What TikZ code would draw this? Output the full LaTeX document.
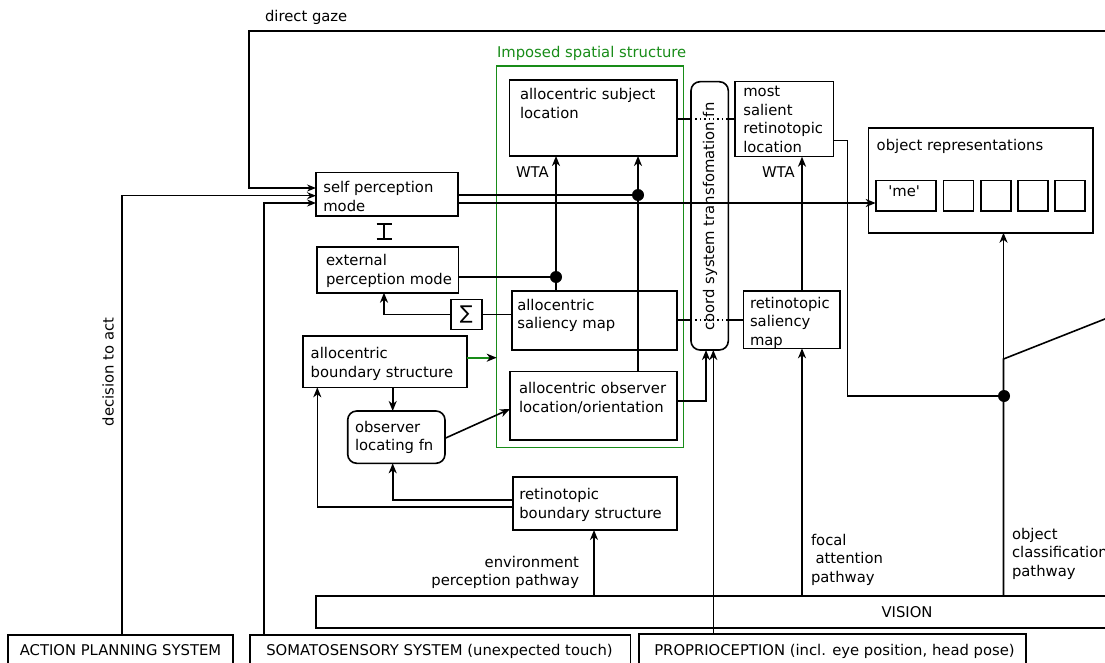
\documentclass[tikz,border=0pt]{standalone}
\usepackage{fontspec}
\setmainfont{DejaVu Sans}
\usetikzlibrary{arrows.meta,fit}
\definecolor{grn}{RGB}{24,140,24}
\newcommand\dfont{\fontsize{14.8}{18.5}\selectfont}
\begin{document}
\begin{tikzpicture}[x=1pt,y=-1pt,
  box/.style={draw, line width=1.6pt, inner sep=0pt, outer sep=0pt},
  rbox/.style={box, rounded corners=9pt},
  gbox/.style={draw=grn, line width=1.3pt, inner sep=0pt, outer sep=0pt},
  txt/.style={inner sep=0pt, outer sep=0pt, anchor=north west, yshift=12.95pt, align=left, font=\dfont},
  rtxt/.style={txt, anchor=north east, align=right},
  ctxt/.style={inner sep=0pt, outer sep=0pt, anchor=base, font=\dfont},
  ln/.style={line width=1.6pt},
  dotln/.style={line width=1.4pt, dash pattern=on 1.4pt off 3pt},
  arr/.style={ln, -{Stealth[length=10pt,width=8pt,inset=3pt]}},
  arrs/.style={ln, -{Stealth[length=9pt,width=7pt,inset=3pt]}},
  dot/.style={circle, fill=black, minimum size=12pt, inner sep=0pt, outer sep=0pt},
]
\useasboundingbox (0,0) rectangle (1105,663);
\clip (0,0) rectangle (1105,663);

% ---------------- boxes ----------------
\node[box, fit={(316,172.7) (458,216)}] (self) {};
\node[box, fit={(316.7,247) (458.3,292.7)}] (ext) {};
\node[box, minimum width=30.7pt, minimum height=30pt] (sig) at (466.35,314.3) {\fontsize{19}{19}\selectfont ∑};
\node[box, fit={(511.7,290.7) (676.7,350)}] (asal) {};
\node[box, fit={(302.7,336) (466.7,387.3)}] (abound) {};
\node[box, fit={(510,371.3) (676.7,440)}] (aobs) {};
\node[rbox, fit={(347.7,411) (445,463.3)}] (ofn) {};
\node[box, fit={(512.7,476.7) (676.7,530)}] (rbound) {};
\node[box, fit={(509.3,80) (676.7,156)}] (asubj) {};
\node[gbox, fit={(496.7,66) (683.3,447.3)}] (green) {};
\node[rbox, fit={(691,81.7) (728.3,350)}] (coord) {};
\node[box, fit={(735,81.7) (833.3,156.7)}] (msal) {};
\node[box, fit={(743.3,290.7) (840,348.3)}] (rsal) {};
\node[box, fit={(868.3,128.3) (1092.7,232.7)}] (objrep) {};
\node[box, fit={(875.7,180.7) (936,210.7)}] (me) {};
\node[box, fit={(943.3,180.7) (973.3,210.7)}] (o2) {};
\node[box, fit={(980.7,180.7) (1010.7,210.7)}] (o3) {};
\node[box, fit={(1017.7,180.7) (1047.7,210.7)}] (o4) {};
\node[box, fit={(1055,180.7) (1085,210.7)}] (o5) {};
\node[box, fit={(316,596) (1120,628)}] (vis) {};
\node[box, fit={(8,635) (233,672)}] (act) {};
\node[box, fit={(250,635) (630.4,672)}] (soma) {};
\node[box, fit={(639,634) (1026,672)}] (prop) {};

% ---------------- texts ----------------
\node[txt] (tdg) at (265,23) {direct gaze};
\node[txt, text=grn] (tgreen) at (497,59) {Imposed spatial structure};
\node[txt] (tself) at (323.3,192.7) {\strut self perception\\mode};
\node[txt] (text) at (326,265.5) {\strut external\\perception mode};
\node[txt] (tasal) at (517.3,310) {\strut allocentric\\saliency map};
\node[txt] (tabound) at (310.7,358.5) {\strut allocentric\\boundary structure};
\node[txt] (taobs) at (519,393.5) {\strut allocentric observer\\location/orientation};
\node[txt] (tofn) at (355,432) {\strut observer\\locating fn};
\node[txt] (trbound) at (519.3,499.5) {\strut retinotopic\\boundary structure};
\node[txt] (tasubj) at (520,100) {\strut allocentric subject\\location};
\node[txt] (tmsal) at (743.3,97) {\strut most\\salient\\retinotopic\\location};
\node[txt] (trsal) at (750,308.3) {\strut retinotopic\\saliency\\map};
\node[txt] (tobj) at (876.7,152) {object representations};
\node[txt] (tme) at (888.3,198.5) {\textquotesingle me\textquotesingle};
\node[txt] (twta1) at (516,180) {WTA};
\node[txt] (twta2) at (762,180) {WTA};
\node[rtxt] (tenv) at (579,567) {\strut environment\\perception pathway};
\node[txt] (tfoc) at (811,545) {\strut focal\\\hspace{4.5pt}attention\\pathway};
\node[txt] (tocl) at (1012,539) {\strut object\\classification\\pathway};
\node[ctxt] (tvis) at (907,617.4) {VISION};
\node[ctxt] (tact) at (120.5,655.5) {ACTION PLANNING SYSTEM};
\node[ctxt] (tsoma) at (439.5,655.5) {SOMATOSENSORY SYSTEM (unexpected touch)};
\node[ctxt] (tprop) at (834.5,655.5) {PROPRIOCEPTION (incl. eye position, head pose)};
\node[inner sep=0pt, rotate=90, font=\dfont] (tdec) at (108,372) {decision to act};
\node[inner sep=0pt, rotate=90, font=\dfont] (tcoord) at (710,216.5) {coord system transfomation fn};

% ---------------- dots ----------------
\node[dot] (d1) at (638,195) {};
\node[dot] (d2) at (556,277) {};
\node[dot] (d3) at (1004,396) {};
\coordinate (dgR) at (1115,31);
\coordinate (sw) at (1003.5,359);
\coordinate (swR) at (1115,315);

% ---------------- connectors ----------------
\draw[arrs] (dgR) -- (249,31) -- (249,188) -- (self.west |- 0,188);
\draw[arrs] (act.north -| 122,0) -- (122,195.7) -- (self.west |- 0,195.7);
\draw[arrs] (soma.north -| 264,0) -- (264,203) -- (self.west |- 0,203);
\draw[ln] (self.east |- d1) -- (d1);
\draw[arr] (self.east |- 0,203) -- (me.west |- 0,203);
\draw[arr] (aobs.north -| d1) -- (asubj.south -| d1);
\draw[ln] (ext.east |- d2) -- (d2);
\draw[arr] (asal.north -| d2) -- (asubj.south -| d2);
\draw[ln] (asal.west |- sig) -- (sig.east);
\draw[arr] (sig.west) -- (384,314.3) -- (ext.south -| 384,0);
\draw[ln, grn, -{Stealth[length=10pt,width=8pt,inset=3pt,black]}] (abound.east |- 0,357.7) -- (green.west |- 0,357.7);
\draw[arr] (abound.south -| 392.7,0) -- (ofn.north -| 392.7,0);
\draw[arr] (ofn.east |- 0,438.3) -- (aobs.west |- 0,409);
\draw[arr] (aobs.east |- 0,401) -- (706,401) -- (coord.south -| 706,0);
\draw[arr] (prop.north -| 713.3,0) -- (coord.south -| 713.3,0);
\draw[arr] (rbound.west |- 0,500) -- (392.7,500) -- (ofn.south -| 392.7,0);
\draw[arr] (rbound.west |- 0,506.7) -- (317.3,506.7) -- (abound.south -| 317.3,0);
\draw[arr] (vis.north -| 594,0) -- (rbound.south -| 594,0);
\draw[ln] (asubj.east |- 0,119) -- (coord.west |- 0,119);
\draw[dotln] (coord.west |- 0,119) -- (coord.east |- 0,119);
\draw[ln] (coord.east |- 0,119) -- (msal.west |- 0,119);
\draw[ln] (asal.east |- 0,320) -- (coord.west |- 0,320);
\draw[dotln] (coord.west |- 0,320) -- (coord.east |- 0,320);
\draw[ln] (coord.east |- 0,320) -- (rsal.west |- 0,320);
\draw[arr] (rsal.north -| 802,0) -- (msal.south -| 802,0);
\draw[arr] (vis.north -| 802,0) -- (rsal.south -| 802,0);
\draw[ln] (msal.east |- 0,140.7) -- (847.3,140.7) -- (847.3,396) -- (d3);
\draw[ln] (vis.north -| sw) -- (sw) -- (swR);
\draw[arr] (sw) -- (objrep.south -| sw);
% inhibition symbol
\draw[line width=1.6pt] (376.5,224) -- (391.5,224) (384,224) -- (384,239) (376.5,239) -- (391.5,239);
\end{tikzpicture}
\end{document}
